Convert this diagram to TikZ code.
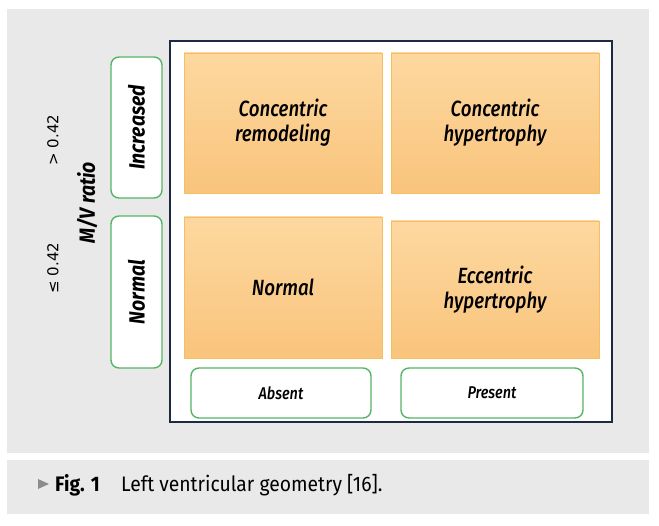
\documentclass[tikz,border=0pt]{standalone}
\usepackage{fontspec}
\setmainfont[FakeStretch=0.92]{Fira Sans}
\newfontfamily\cellfont[FakeStretch=0.85,ItalicFont={Fira Sans Medium Italic}]{Fira Sans Medium}
\newfontfamily\tagfont[FakeStretch=0.88]{Fira Sans}
\newfontfamily\numfont{DejaVu Sans}
\definecolor{bggray}{HTML}{E9E9E9}
\definecolor{framenavy}{HTML}{1E2A44}
\definecolor{boxgreen}{HTML}{55B465}
\definecolor{celltop}{HTML}{FDD8A0}
\definecolor{cellbot}{HTML}{F9C47C}
\definecolor{celledge}{HTML}{F6BE60}
\definecolor{arrowgray}{HTML}{8C8C8C}
\begin{document}
\begin{tikzpicture}[x=1pt,y=-1pt,
  cell/.style={draw=celledge,line width=0.8pt,top color=celltop,bottom color=cellbot,
    inner sep=0pt,align=center,font=\cellfont\itshape\fontsize{22}{25}\selectfont},
  tag/.style={draw=boxgreen,fill=white,line width=1.4pt,rounded corners=8pt,inner sep=0pt},
  vtag/.style={tag,rotate=90,minimum height=51pt,font=\tagfont\bfseries\itshape\fontsize{22}{24}\selectfont},
  htag/.style={tag,minimum height=50pt,font=\cellfont\itshape\fontsize{17}{20}\selectfont},
  limit/.style={rotate=90,inner sep=0pt,font=\numfont\fontsize{15}{18}\selectfont}]
\useasboundingbox (0,0) rectangle (659,526);
% background panels
\fill[bggray] (7,9) rectangle (649,453);
\fill[bggray] (7,460) rectangle (649,514);
\node[draw=framenavy,fill=white,line width=2.2pt,inner sep=0pt,minimum width=442pt,minimum height=381pt] (frame) at (391,231.5) {};
% the four geometry cells
\node[cell,minimum width=198pt,minimum height=140pt] (remod) at (283,123) {Concentric\\remodeling};
\node[cell,minimum width=208pt,minimum height=140pt] (conhyp) at (495,123) {Concentric\\hypertrophy};
\node[cell,minimum width=198pt,minimum height=141pt] (normal) at (283,287.5) {Normal};
\node[cell,minimum width=208pt,minimum height=137pt] (ecchyp) at (495,289.5) {Eccentric\\hypertrophy};
% M/V ratio side
\node[vtag,minimum width=141pt] (incr) at (136.5,127.5) {Increased};
\node[vtag,minimum width=152pt] (norm) at (136.5,292) {Normal};
\node[rotate=90,inner sep=0pt,font=\tagfont\bfseries\itshape\fontsize{22}{24}\selectfont] (mv) at (87,203) {M/V ratio};
\node[limit] (gt) at (53,140) {> 0.42};
\node[limit] (le) at (53,268) {≤ 0.42};
% LV hypertrophy along the bottom
\node[htag,minimum width=180pt] (absent) at (281,393) {Absent};
\node[htag,minimum width=182pt] (present) at (492,393) {Present};
% caption
\fill[arrowgray] (38,479) -- (49,484) -- (38,489) -- cycle;
\node[anchor=base west,inner sep=0pt,font=\fontsize{21}{24}\selectfont\bfseries] (fig) at (55,492) {Fig. 1};
\node[anchor=base west,inner sep=0pt,font=\fontsize{21}{24}\selectfont] (title) at (121,492) {Left ventricular geometry [16].};
\end{tikzpicture}
\end{document}
